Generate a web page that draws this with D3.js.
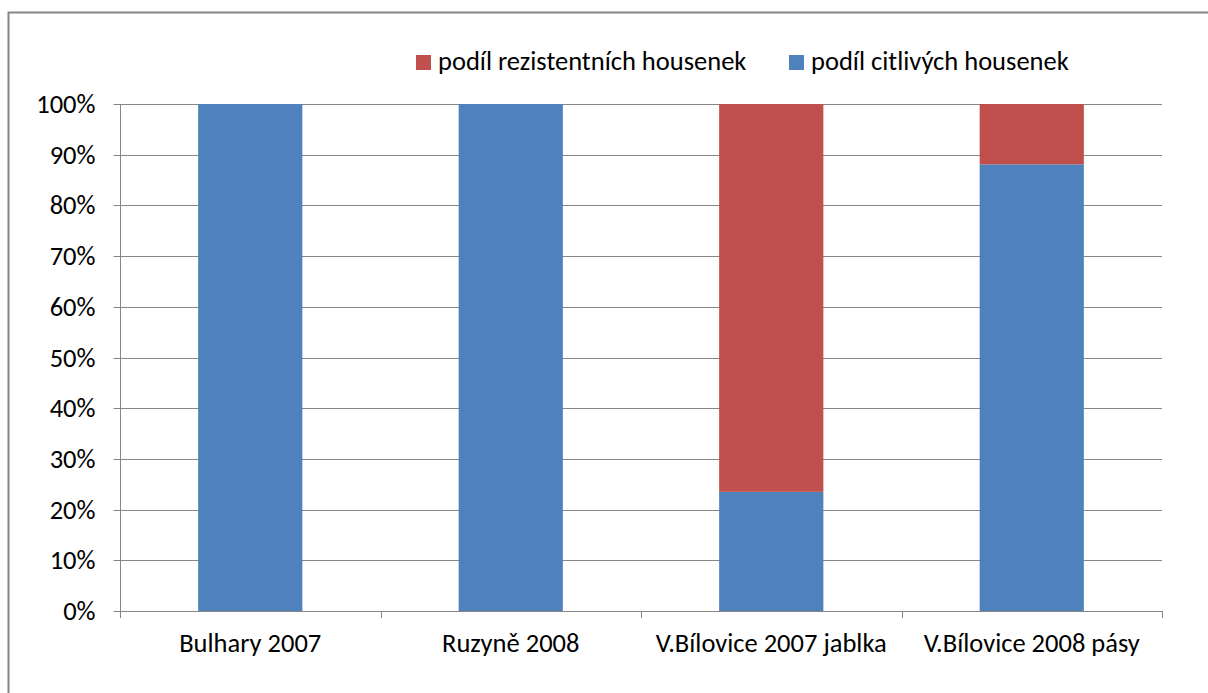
<!DOCTYPE html>
<html><head><meta charset="utf-8">
<script src="https://cdn.jsdelivr.net/npm/d3@7"></script>
<style>body{margin:0;background:#fff}svg{display:block}text{font-family:Carlito,Calibri,Lato,sans-serif}</style>
</head><body>
<script>
const categories = ["Bulhary 2007","Ruzyně 2008","V.Bílovice 2007 jablka","V.Bílovice 2008 pásy"];
const sensitive = [1.0, 1.0, 0.235, 0.881];
const resistant = [0.0, 0.0, 0.765, 0.119];
const seriesNames = ["podíl rezistentních housenek","podíl citlivých housenek"];
const seriesColors = ["#C0504D","#4F81BD"];
const yTicks = [0,0.1,0.2,0.3,0.4,0.5,0.6,0.7,0.8,0.9,1.0];

(function(){
const W=1208,H=693,FS=26.5;
const svg=d3.select("body").append("svg").attr("width",W).attr("height",H);
svg.append("rect").attr("x",8.5).attr("y",12.5).attr("width",1220).attr("height",700)
  .attr("fill","#fff").attr("stroke","#868686").attr("stroke-width",2);

const pL=120,pR=1162,pT=104,pB=611;
const x=d3.scaleBand().domain(categories).range([pL,pR]).paddingInner(0.6).paddingOuter(0.3);
const y=d3.scaleLinear().domain([0,1]).range([pB,pT]);

// gridlines
svg.append("g").selectAll("line").data(yTicks.filter(d=>d>0)).join("line")
  .attr("x1",pL).attr("x2",pR).attr("y1",d=>Math.round(y(d))+0.5).attr("y2",d=>Math.round(y(d))+0.5)
  .attr("stroke","#868686").attr("stroke-width",1);

const rows=categories.map((c,i)=>({cat:c,sens:sensitive[i],res:resistant[i]}));
const layers=d3.stack().keys(["sens","res"])(rows);
const colorFor={sens:seriesColors[1],res:seriesColors[0]};
svg.append("g").selectAll("g").data(layers).join("g").attr("fill",d=>colorFor[d.key])
  .selectAll("rect").data(d=>d).join("rect")
  .attr("x",d=>x(d.data.cat)).attr("width",x.bandwidth())
  .attr("y",d=>y(d[1])).attr("height",d=>Math.max(0,y(d[0])-y(d[1])));

// y axis
const yAxis=d3.axisLeft(y).tickValues(yTicks).tickFormat(d3.format(".0%")).tickSize(7).tickPadding(18);
const gy=svg.append("g").attr("transform",`translate(${pL+0.5},0)`).call(yAxis);
gy.select(".domain").attr("stroke","#868686").attr("d",`M0,${pT}V${pB}`);
gy.selectAll(".tick line").attr("stroke","#868686");
gy.selectAll(".tick").attr("transform",d=>`translate(0,${Math.round(y(d))+0.5})`);
gy.selectAll("text").attr("font-size",FS).attr("fill","#000").attr("font-family","Carlito,Calibri,Lato,sans-serif");

// x axis
const step=(pR-pL)/categories.length;
const gx=svg.append("g");
gx.append("line").attr("x1",pL).attr("x2",pR).attr("y1",pB+0.5).attr("y2",pB+0.5).attr("stroke","#868686");
gx.selectAll(".tk").data(d3.range(categories.length+1)).join("line")
  .attr("x1",i=>Math.round(pL+i*step)+0.5).attr("x2",i=>Math.round(pL+i*step)+0.5)
  .attr("y1",pB).attr("y2",pB+7).attr("stroke","#868686");
gx.selectAll("text").data(categories).join("text")
  .attr("x",c=>x(c)+x.bandwidth()/2).attr("y",pB+41).attr("text-anchor","middle")
  .attr("font-size",FS).attr("fill","#000").text(c=>c);

// legend
const legX=[416,789];
const lg=svg.append("g");
seriesNames.forEach((n,i)=>{
  lg.append("rect").attr("x",legX[i]).attr("y",55).attr("width",15).attr("height",15).attr("fill",seriesColors[i]);
  lg.append("text").attr("x",legX[i]+22).attr("y",70).attr("font-size",FS).attr("fill","#000").text(n);
});
})();
</script>
</body></html>
